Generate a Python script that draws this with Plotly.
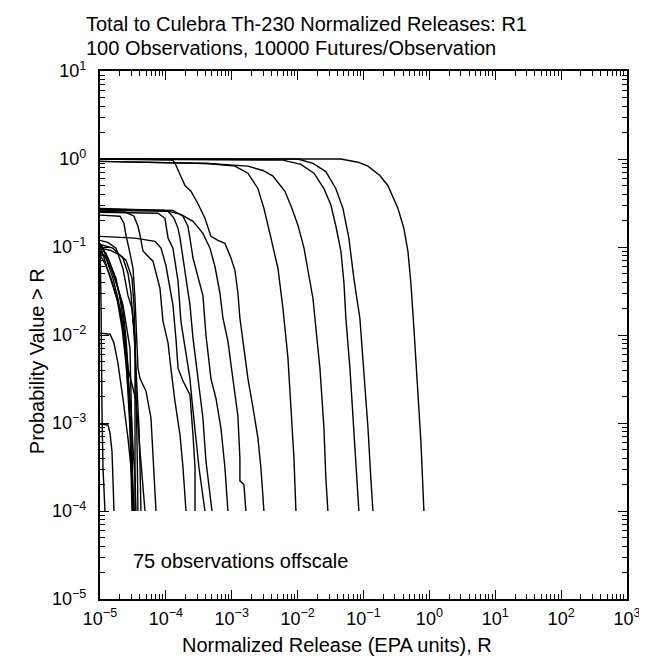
import plotly.graph_objects as go

# ---- data (release R, probability > R) ----
rel_01 = [1e-5, 0.0454, 0.0822, 0.117, 0.177, 0.234, 0.333, 0.41, 0.472, 0.524, 0.582, 0.67, 0.743, 0.826]
prob_01 = [1.0, 1.0, 0.92, 0.83, 0.65, 0.50, 0.275, 0.163, 0.090, 0.039, 0.0120, 0.0025, 0.00062, 0.0001]

rel_02 = [1e-5, 1.01e-2, 1.71e-2, 0.0268, 0.0381, 0.0487, 0.060, 0.0714, 0.0881, 0.101, 0.117, 0.129, 0.139]
prob_02 = [1.0, 1.0, 0.89, 0.72, 0.46, 0.275, 0.126, 0.044, 0.0155, 0.0042, 0.00087, 0.00024, 0.0001]

rel_03 = [1e-5, 5.99e-3, 0.0112, 0.0177, 0.0251, 0.032, 0.0381, 0.0454, 0.0505, 0.054, 0.0622, 0.0714, 0.0794, 0.0851]
prob_03 = [1.0, 0.97, 0.87, 0.69, 0.46, 0.30, 0.172, 0.090, 0.039, 0.0155, 0.0042, 0.00087, 0.00024, 0.0001]

rel_04 = [1e-5, 4.35e-4, 1.76e-3, 2.97e-3, 4.22e-3, 6.42e-3, 8.18e-3, 1.01e-2, 0.0125, 0.0143, 0.0171, 0.0183, 0.0218, 0.0251, 0.0268, 0.0288]
prob_04 = [0.94, 0.89, 0.83, 0.74, 0.64, 0.43, 0.275, 0.177, 0.097, 0.057, 0.026, 0.0155, 0.0042, 0.00087, 0.00024, 0.0001]

rel_05 = [1e-5, 4.35e-4, 1.12e-3, 1.76e-3, 2.50e-3, 3.08e-3, 3.94e-3, 5.03e-3, 5.99e-3, 7.13e-3, 7.91e-3, 8.79e-3, 9.42e-3]
prob_05 = [0.94, 0.89, 0.83, 0.69, 0.46, 0.275, 0.126, 0.057, 0.020, 0.0055, 0.0015, 0.00040, 0.0001]

rel_06 = [1e-5, 1.28e-4, 1.42e-4, 1.95e-4, 2.40e-4, 3.07e-4, 3.92e-4, 4.83e-4, 6.18e-4, 7.88e-4, 9.72e-4,
          1.12e-3, 1.24e-3, 1.33e-3, 1.53e-3, 1.76e-3, 2.10e-3, 2.50e-3, 2.77e-3, 3.08e-3]
prob_06 = [1.0, 0.97, 0.85, 0.50, 0.43, 0.31, 0.212, 0.132, 0.119, 0.110, 0.075,
           0.054, 0.030, 0.0155, 0.0071, 0.0032, 0.0015, 0.00067, 0.00031, 0.0001]

rel_07 = [1e-5, 9.68e-5, 1.69e-4, 2.58e-4, 3.65e-4, 4.67e-4, 5.56e-4, 6.62e-4, 7.35e-4, 8.75e-4, 1.04e-3,
          1.24e-3, 1.33e-3, 1.33e-3, 1.53e-3, 1.64e-3]
prob_07 = [0.275, 0.261, 0.235, 0.196, 0.143, 0.097, 0.060, 0.030, 0.0155, 0.0085, 0.0032,
           0.0012, 0.00040, 0.00022, 0.00020, 0.0001]

rel_08 = [1e-5, 1.28e-4, 1.82e-4, 2.16e-4, 2.32e-4, 2.58e-4, 3.65e-4, 4.06e-4, 4.83e-4, 5.76e-4, 6.86e-4, 7.88e-4, 8.75e-4]
prob_08 = [0.268, 0.261, 0.224, 0.172, 0.126, 0.075, 0.028, 0.0100, 0.0032, 0.0019, 0.00087, 0.00031, 0.0001]

rel_09 = [1e-5, 1.08e-4, 1.33e-4, 1.53e-4, 1.64e-4, 1.95e-4, 2.32e-4, 2.58e-4, 3.07e-4, 3.65e-4, 4.06e-4, 5.01e-4]
prob_09 = [0.261, 0.255, 0.212, 0.163, 0.126, 0.053, 0.022, 0.0092, 0.0032, 0.00114, 0.00037, 0.0001]

rel_10 = [1e-5, 7.59e-5, 9.68e-5, 1.08e-4, 1.28e-4, 1.53e-4, 1.69e-4, 1.95e-4, 2.32e-4, 2.49e-4, 2.86e-4, 3.18e-4, 3.92e-4]
prob_10 = [0.248, 0.242, 0.212, 0.126, 0.097, 0.041, 0.0144, 0.0071, 0.0032, 0.0018, 0.00067, 0.00031, 0.0001]

rel_11 = [1e-5, 3.40e-5, 6.84e-5, 8.43e-5, 1.0e-4, 1.28e-4, 1.42e-4, 1.53e-4, 1.82e-4, 2.32e-4, 2.58e-4, 2.77e-4, 2.77e-4]
prob_11 = [0.132, 0.126, 0.116, 0.097, 0.062, 0.022, 0.0092, 0.0042, 0.0030, 0.0021, 0.00073, 0.00031, 0.0001]

rel_12 = [1e-5, 2.48e-5, 3.28e-5, 3.77e-5, 4.05e-5, 4.49e-5, 6.37e-5, 8.13e-5, 9.03e-5, 1.08e-4, 1.19e-4, 1.37e-4, 1.64e-4, 1.82e-4, 2.02e-4]
prob_12 = [0.255, 0.248, 0.224, 0.172, 0.136, 0.090, 0.069, 0.034, 0.0144, 0.0081, 0.0042, 0.0018, 0.00073, 0.00031, 0.0001]

rel_13 = [1e-5, 1.11e-5, 1.32e-5, 1.57e-5, 1.87e-5, 2.23e-5, 2.48e-5, 2.66e-5, 2.85e-5, 2.95e-5, 3.06e-5]
prob_13 = [0.110, 0.097, 0.065, 0.044, 0.026, 0.0120, 0.0055, 0.0025, 0.00087, 0.00031, 0.0001]

rel_14 = [1e-5, 1.23e-5, 1.57e-5, 2.23e-5, 2.85e-5, 2.95e-5, 3.06e-5, 3.17e-5]
prob_14 = [0.102, 0.085, 0.053, 0.022, 0.0071, 0.0025, 0.00067, 0.0001]

rel_15 = [1e-5, 1.42e-5, 2.01e-5, 2.48e-5, 3.06e-5, 3.28e-5, 3.40e-5, 3.40e-5, 3.40e-5]
prob_15 = [0.097, 0.092, 0.081, 0.071, 0.044, 0.022, 0.0092, 0.00087, 0.0001]

rel_16 = [1e-5, 1.32e-5, 1.75e-5, 2.01e-5, 2.23e-5, 2.48e-5, 2.66e-5, 2.95e-5, 3.17e-5, 3.40e-5, 3.52e-5]
prob_16 = [0.085, 0.075, 0.044, 0.026, 0.0155, 0.0071, 0.0032, 0.0015, 0.00052, 0.00024, 0.0001]

rel_17 = [1e-5, 1.32e-5, 1.75e-5, 2.23e-5, 2.66e-5, 3.06e-5, 3.40e-5, 3.52e-5, 3.64e-5, 3.77e-5]
prob_17 = [0.119, 0.113, 0.097, 0.057, 0.028, 0.020, 0.0092, 0.0032, 0.00067, 0.0001]

rel_18 = [1e-5, 1.23e-5, 1.57e-5, 1.87e-5, 2.23e-5, 2.48e-5, 2.66e-5, 3.52e-5, 4.05e-5, 4.82e-5]
prob_18 = [0.090, 0.075, 0.050, 0.034, 0.020, 0.0092, 0.0042, 0.0018, 0.00048, 0.0001]

rel_19 = [1e-5, 2.01e-5, 2.31e-5, 2.48e-5, 2.85e-5, 3.17e-5, 3.40e-5, 3.64e-5, 3.77e-5, 4.05e-5, 4.99e-5, 5.94e-5, 6.37e-5, 7.08e-5]
prob_19 = [0.230, 0.224, 0.186, 0.136, 0.085, 0.057, 0.026, 0.0092, 0.0042, 0.0032, 0.0023, 0.00114, 0.00043, 0.0001]

rel_20 = [1e-5, 1.04e-5, 1.07e-5, 1.11e-5, 1.19e-5]
prob_20 = [0.110, 0.020, 0.0015, 0.00031, 0.0001]

rel_21 = [1e-5, 1.32e-5, 1.42e-5, 1.52e-5, 1.57e-5, 1.63e-5]
prob_21 = [0.00097, 0.00095, 0.00077, 0.00048, 0.00024, 0.0001]

rel_22 = [1e-5, 1.42e-5, 1.63e-5, 1.87e-5, 2.23e-5, 2.66e-5, 3.06e-5, 3.28e-5]
prob_22 = [0.0105, 0.0102, 0.0081, 0.0048, 0.0019, 0.00067, 0.00024, 0.0001]

rel_23 = [1e-5, 1.15e-5, 1.32e-5, 1.63e-5, 2.01e-5, 2.39e-5, 2.66e-5, 2.85e-5, 2.95e-5, 3.17e-5]
prob_23 = [0.105, 0.075, 0.054, 0.034, 0.020, 0.0092, 0.0042, 0.0015, 0.00040, 0.0001]

rel_24 = [1e-5, 1.19e-5, 1.47e-5, 1.81e-5, 2.16e-5, 2.48e-5, 2.75e-5, 2.95e-5, 3.17e-5, 3.28e-5]
prob_24 = [0.081, 0.065, 0.044, 0.026, 0.0120, 0.0048, 0.0019, 0.00067, 0.00024, 0.0001]

rel_25 = [1e-5, 1.57e-5, 2.23e-5, 2.66e-5, 2.95e-5, 3.17e-5, 3.40e-5, 3.64e-5, 3.91e-5, 4.05e-5, 4.19e-5]
prob_25 = [0.107, 0.097, 0.075, 0.050, 0.030, 0.0155, 0.0071, 0.0025, 0.00087, 0.00031, 0.0001]

x_tick_vals = [1e-5, 1e-4, 1e-3, 1e-2, 1e-1, 1e0, 1e1, 1e2, 1e3]
x_tick_text = ["10<sup>−5</sup>", "10<sup>−4</sup>", "10<sup>−3</sup>", "10<sup>−2</sup>", "10<sup>−1</sup>",
               "10<sup>0</sup>", "10<sup>1</sup>", "10<sup>2</sup>", "10<sup>3</sup>"]
y_tick_vals = [1e-5, 1e-4, 1e-3, 1e-2, 1e-1, 1e0, 1e1]
y_tick_text = ["10<sup>−5</sup>", "10<sup>−4</sup>", "10<sup>−3</sup>", "10<sup>−2</sup>", "10<sup>−1</sup>",
               "10<sup>0</sup>", "10<sup>1</sup>"]

title_1 = "Total to Culebra Th-230 Normalized Releases: R1"
title_2 = "100 Observations, 10000 Futures/Observation"
x_title = "Normalized Release (EPA units), R"
y_title = "Probability Value > R"
note = "75 observations offscale"

curves = [
    (rel_01, prob_01), (rel_02, prob_02), (rel_03, prob_03), (rel_04, prob_04), (rel_05, prob_05),
    (rel_06, prob_06), (rel_07, prob_07), (rel_08, prob_08), (rel_09, prob_09), (rel_10, prob_10),
    (rel_11, prob_11), (rel_12, prob_12), (rel_13, prob_13), (rel_14, prob_14), (rel_15, prob_15),
    (rel_16, prob_16), (rel_17, prob_17), (rel_18, prob_18), (rel_19, prob_19), (rel_20, prob_20),
    (rel_21, prob_21), (rel_22, prob_22), (rel_23, prob_23), (rel_24, prob_24), (rel_25, prob_25),
]

fig = go.Figure()
for xs, ys in curves:
    fig.add_trace(go.Scatter(x=xs, y=ys, mode="lines", line=dict(color="black", width=1.4),
                             showlegend=False, hoverinfo="skip"))

minor_x = [k * 10.0 ** e for e in range(-5, 3) for k in range(2, 10)]
minor_y = [k * 10.0 ** e for e in range(-5, 1) for k in range(2, 10)]

TICK_FS = 18
TEXT_FS = 20
axis_common = dict(type="log", showgrid=False, zeroline=False, showline=True, linecolor="black",
                   linewidth=2.2, mirror="ticks", ticks="inside", ticklen=9, tickwidth=1.4,
                   tickcolor="black", tickmode="array",
                   tickfont=dict(size=TICK_FS, color="black"))

fig.update_xaxes(range=[-5, 3], tickvals=x_tick_vals, ticktext=x_tick_text, ticklabelstandoff=2,
                 minor=dict(ticks="inside", ticklen=5, tickwidth=1, tickcolor="black",
                            tickvals=minor_x, showgrid=False),
                 **axis_common)
fig.update_yaxes(range=[-5, 1], tickvals=y_tick_vals, ticktext=y_tick_text, ticklabelstandoff=8,
                 minor=dict(ticks="inside", ticklen=5, tickwidth=1, tickcolor="black",
                            tickvals=minor_y, showgrid=False),
                 **axis_common)

fig.update_layout(
    width=647, height=660,
    margin=dict(l=92, r=28, t=63, b=69),
    plot_bgcolor="white", paper_bgcolor="white",
    font=dict(family="Liberation Sans, Arial, sans-serif", color="black", size=TEXT_FS),
    annotations=[
        dict(text=title_1, xref="paper", yref="paper", x=-0.03, y=1.089, xanchor="left",
             yanchor="middle", showarrow=False, font=dict(size=TEXT_FS)),
        dict(text=title_2, xref="paper", yref="paper", x=-0.03, y=1.043, xanchor="left",
             yanchor="middle", showarrow=False, font=dict(size=TEXT_FS)),
        dict(text=x_title, xref="paper", yref="paper", x=0.45, y=-0.088, xanchor="center",
             yanchor="middle", showarrow=False, font=dict(size=TEXT_FS)),
        dict(text=y_title, xref="paper", yref="paper", x=-0.118, y=0.45, xanchor="center",
             yanchor="middle", textangle=-90, showarrow=False, font=dict(size=TEXT_FS)),
        dict(text=note, xref="paper", yref="paper", x=0.059, y=0.072, xanchor="left",
             yanchor="middle", showarrow=False, font=dict(size=TEXT_FS)),
    ],
)

fig.write_html("out.html")
